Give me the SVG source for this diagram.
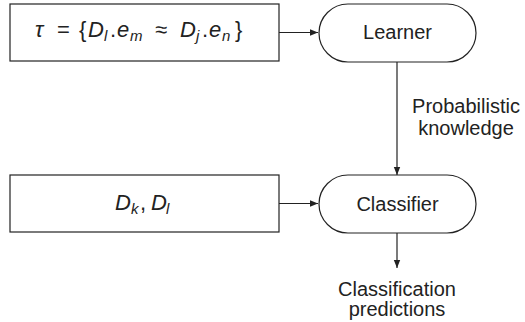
<svg xmlns="http://www.w3.org/2000/svg" width="525" height="322" viewBox="0 0 525 322">
  <style>
    .box { fill: #ffffff; stroke: #222222; stroke-width: 1.2; }
    .edge { fill: none; stroke: #222222; stroke-width: 1.2; }
    .lbl { font-family: "Liberation Sans", Arial, sans-serif; font-size: 20px; fill: #222222; }
    .math { font-family: "Liberation Sans", Arial, sans-serif; font-size: 22px; fill: #222222; }
    .it { font-style: italic; }
    .sub { font-size: 15px; font-style: italic; }
  </style>
  <defs>
    <marker id="arrow" viewBox="0 0 10 10" refX="10" refY="5" markerWidth="8" markerHeight="8" markerUnits="userSpaceOnUse" orient="auto">
      <path d="M0,1 L10,5 L0,9 Z" fill="#222222"/>
    </marker>
  </defs>

  <rect width="525" height="322" fill="#ffffff"/>

  <g id="connectors">
    <line class="edge" x1="279" y1="32.5" x2="318" y2="32.5" marker-end="url(#arrow)"/>
    <line class="edge" x1="279" y1="203.5" x2="318" y2="203.5" marker-end="url(#arrow)"/>
    <line class="edge" x1="397" y1="62" x2="397" y2="175" marker-end="url(#arrow)"/>
    <line class="edge" x1="397" y1="233" x2="397" y2="268" marker-end="url(#arrow)"/>
    <text class="lbl" x="466" y="113" text-anchor="middle">Probabilistic</text>
    <text class="lbl" x="466" y="135" text-anchor="middle">knowledge</text>
    <text class="lbl" x="397" y="296" text-anchor="middle">Classification</text>
    <text class="lbl" x="397" y="316" text-anchor="middle">predictions</text>
  </g>

  <g id="training-pairs">
    <rect class="box" x="10" y="4" width="269" height="57"/>
    <text class="math" y="37"><tspan class="it" x="35">τ</tspan><tspan x="57">=</tspan><tspan x="79">{</tspan><tspan class="it" x="88">D</tspan><tspan class="sub" x="104" dy="4">l</tspan><tspan x="110" dy="-4">.</tspan><tspan class="it" x="117">e</tspan><tspan class="sub" x="130" dy="4">m</tspan><tspan x="155" dy="-4">≈</tspan><tspan class="it" x="180">D</tspan><tspan class="sub" x="196" dy="4">j</tspan><tspan x="202" dy="-4">.</tspan><tspan class="it" x="209">e</tspan><tspan class="sub" x="222" dy="4">n</tspan><tspan x="235" dy="-4">}</tspan></text>
  </g>

  <g id="learner">
    <rect class="box" x="319" y="4" width="157" height="58" rx="29" ry="29"/>
    <text class="lbl" x="397.5" y="39" text-anchor="middle">Learner</text>
  </g>

  <g id="input-data">
    <rect class="box" x="10" y="175" width="269" height="57"/>
    <text class="math" y="210"><tspan class="it" x="115">D</tspan><tspan class="sub" x="131" dy="4">k</tspan><tspan x="140" dy="-4">,</tspan><tspan class="it" x="151">D</tspan><tspan class="sub" x="166" dy="4">l</tspan></text>
  </g>

  <g id="classifier">
    <rect class="box" x="319" y="175" width="157" height="58" rx="29" ry="29"/>
    <text class="lbl" x="397.5" y="211" text-anchor="middle">Classifier</text>
  </g>
</svg>
